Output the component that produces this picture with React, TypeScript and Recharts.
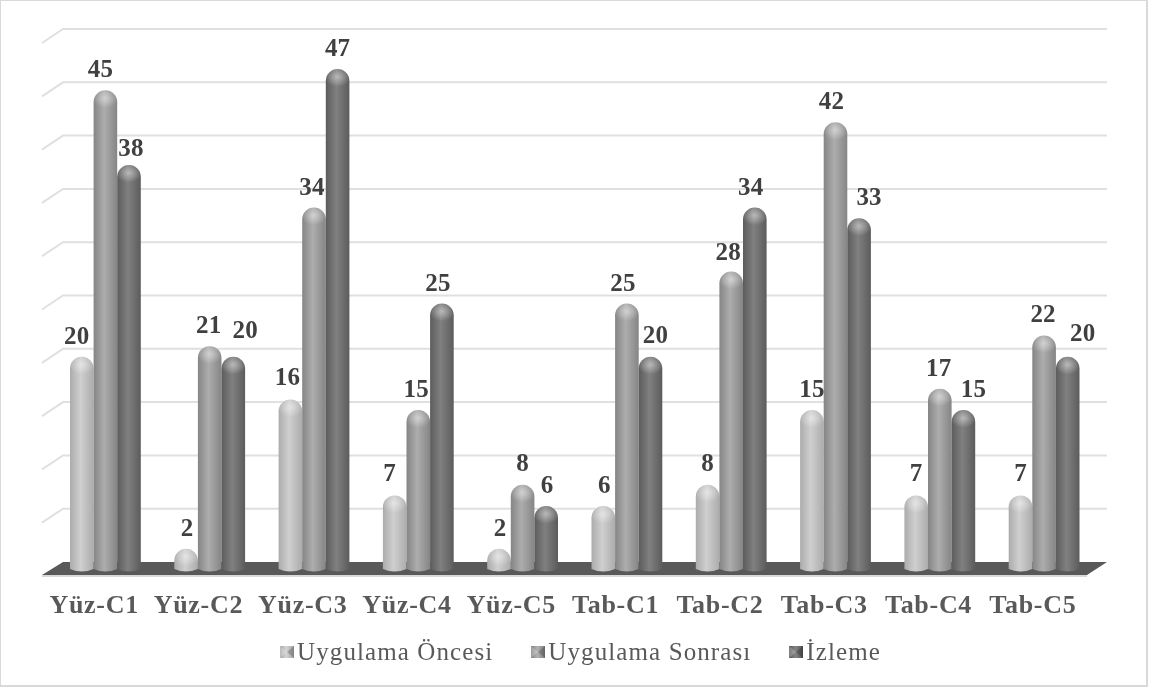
import { BarChart, Bar, XAxis, YAxis, CartesianGrid, Legend, LabelList } from "recharts";

const categories = ["Yüz-C1", "Yüz-C2", "Yüz-C3", "Yüz-C4", "Yüz-C5", "Tab-C1", "Tab-C2", "Tab-C3", "Tab-C4", "Tab-C5"];
const uygulamaOncesi = [20, 2, 16, 7, 2, 6, 8, 15, 7, 7];
const uygulamaSonrasi = [45, 21, 34, 15, 8, 25, 28, 42, 17, 22];
const izleme = [38, 20, 47, 25, 6, 20, 34, 33, 15, 20];
const yTicks = [0, 5, 10, 15, 20, 25, 30, 35, 40, 45, 50];

const chartData = categories.map((name, i) => ({
  name,
  oncesi: uygulamaOncesi[i],
  sonrasi: uygulamaSonrasi[i],
  izleme: izleme[i],
}));

// the data labels were moved by hand in the original, so they need small nudges
const nudgeOncesi = [[-5, 0], [1, 0], [-3, -1], [-5, -1], [1, 0], [1, 0], [0, -1], [0, 0], [0, -1], [0, -1]];
const nudgeSonrasi = [[-5, 0], [-1, 0], [-2, 0], [-2, 0], [0, -1], [-4, 0], [-3, 1], [-4, 0], [-1, 0], [-1, 0]];
const nudgeIzleme = [[2, 4], [12, -6], [0, 0], [-4, 0], [1, 0], [5, -1], [-4, 0], [10, 0], [10, 0], [15, -3]];

const font = "'Liberation Serif', serif";

const legendItems = [
  { label: "Uygulama Öncesi", fill: "url(#legendA)" },
  { label: "Uygulama Sonrası", fill: "url(#legendB)" },
  { label: "İzleme", fill: "url(#legendC)" },
];

function GridLine(props: any) {
  const { x1, x2, y1, index } = props;
  if (index === undefined || y1 === undefined) return null;
  const back = y1 - 8;
  const front = y1 + 6;
  if (Math.abs(y1 - 570) < 1) {
    return (
      <g>
        <polygon points={`${x1 - 11},${front - 1} ${x1 + 10},${back} ${x2 + 11},${back} ${x2 - 9},${front - 1}`} fill="#595959" />
        <line x1={x1 - 11} y1={front} x2={x2 - 9} y2={front} stroke="#d9d9d9" strokeWidth={2} />
      </g>
    );
  }
  return (
    <polyline
      points={`${x1 - 11},${front} ${x1 + 10},${back} ${x2 + 11},${back}`}
      fill="none"
      stroke="#e0e0e0"
      strokeWidth={2}
    />
  );
}

function Cylinder(props: any) {
  const { x, y, width, height, gradient } = props;
  const r = width / 2;
  const d = `M${x},${y + r} A${r},${r} 0 0 1 ${x + width},${y + r} L${x + width},${y + height - 1} Q${x + r},${y + height + 4} ${x},${y + height - 1} Z`;
  return (
    <g>
      <path d={d} fill={`url(#${gradient})`} />
      <ellipse cx={x + r} cy={y + r * 0.75} rx={r} ry={r * 0.75} fill="url(#capShine)" />
    </g>
  );
}

function makeLabel(nudges: number[][]) {
  return (props: any) => {
    const { x, y, width, value, index } = props;
    const [dx, dy] = nudges[index];
    return (
      <text
        x={x + width / 2 + dx}
        y={y - 13 + dy}
        textAnchor="middle"
        fontFamily={font}
        fontWeight="bold"
        fontSize={25}
        letterSpacing={0.2}
        fill="#404040"
      >
        {value}
      </text>
    );
  };
}

function LegendRow() {
  return (
    <div style={{ display: "flex", justifyContent: "center", gap: 38, paddingLeft: 12, fontFamily: font, fontSize: 25, letterSpacing: 1.1, color: "#595959" }}>
      {legendItems.map((item) => (
        <span key={item.label} style={{ display: "flex", alignItems: "center", gap: 3 }}>
          <svg width={14} height={12}>
            <rect width={14} height={12} fill={item.fill} />
            <polygon points="0,0 7,6 0,12" fill="#ffffff" opacity={0.25} />
            <polygon points="14,0 7,6 14,12" fill="#000000" opacity={0.2} />
          </svg>
          {item.label}
        </span>
      ))}
    </div>
  );
}

function Stops({ edge, mid }: { edge: string; mid: string }) {
  return (
    <>
      <stop offset="0%" stopColor={edge} />
      <stop offset="45%" stopColor={mid} />
      <stop offset="100%" stopColor={edge} />
    </>
  );
}

export default function App() {
  return (
    <div
      style={{
        position: "absolute",
        left: 0,
        top: 0,
        width: 1152,
        height: 687,
        background: "#ffffff",
        filter: "blur(0.6px)",
      }}
    >
      <div style={{ position: "absolute", left: 0, top: 0, width: 1145, height: 684, border: "2px solid #d9d9d9", boxSizing: "content-box", borderLeftWidth: 1, borderTopWidth: 1 }} />
      <BarChart
        width={1152}
        height={687}
        data={chartData}
        margin={{ top: 37, right: 56, bottom: 27, left: 53 }}
        barGap={0}
        barSize={23.6}
        style={{ position: "absolute", left: 0, top: 0 }}
      >
        <defs>
          <linearGradient id="barA" x1="0" y1="0" x2="1" y2="0"><Stops edge="#acacac" mid="#cfcfcf" /></linearGradient>
          <linearGradient id="barB" x1="0" y1="0" x2="1" y2="0"><Stops edge="#858585" mid="#adadad" /></linearGradient>
          <linearGradient id="barC" x1="0" y1="0" x2="1" y2="0"><Stops edge="#5c5c5c" mid="#808080" /></linearGradient>
          <linearGradient id="legendA" x1="0" y1="0" x2="1" y2="0"><Stops edge="#a3a3a3" mid="#d4d4d4" /></linearGradient>
          <linearGradient id="legendB" x1="0" y1="0" x2="1" y2="0"><Stops edge="#7d7d7d" mid="#b2b2b2" /></linearGradient>
          <linearGradient id="legendC" x1="0" y1="0" x2="1" y2="0"><Stops edge="#525252" mid="#848484" /></linearGradient>
          <radialGradient id="capShine" cx="0.5" cy="0.45" r="0.55">
            <stop offset="0%" stopColor="#ffffff" stopOpacity={0.45} />
            <stop offset="100%" stopColor="#ffffff" stopOpacity={0} />
          </radialGradient>
        </defs>
        <CartesianGrid vertical={false} horizontal={(p: any) => <GridLine {...p} />} />
        <XAxis
          dataKey="name"
          axisLine={false}
          tickLine={false}
          height={50}
          interval={0}
          tickMargin={19}
          dx={-11}
          tick={{ fontFamily: font, fontWeight: "bold", fontSize: 26, letterSpacing: 0.7, fill: "#595959" }}
        />
        <YAxis hide domain={[0, 50]} ticks={yTicks} />
        <Legend height={40} wrapperStyle={{ bottom: 9 }} content={() => <LegendRow />} />
        <Bar dataKey="oncesi" isAnimationActive={false} shape={(p: any) => <Cylinder {...p} gradient="barA" />}>
          <LabelList dataKey="oncesi" content={makeLabel(nudgeOncesi)} />
        </Bar>
        <Bar dataKey="sonrasi" isAnimationActive={false} shape={(p: any) => <Cylinder {...p} gradient="barB" />}>
          <LabelList dataKey="sonrasi" content={makeLabel(nudgeSonrasi)} />
        </Bar>
        <Bar dataKey="izleme" isAnimationActive={false} shape={(p: any) => <Cylinder {...p} gradient="barC" />}>
          <LabelList dataKey="izleme" content={makeLabel(nudgeIzleme)} />
        </Bar>
      </BarChart>
    </div>
  );
}
